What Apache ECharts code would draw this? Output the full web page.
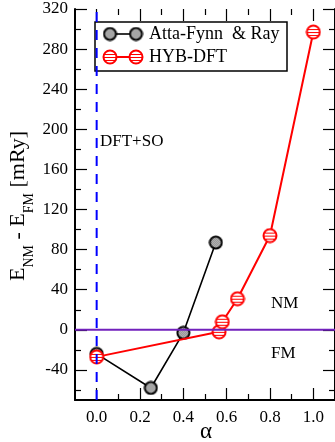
<!DOCTYPE html>
<html>
<head>
<meta charset="utf-8">
<script src="https://cdn.jsdelivr.net/npm/echarts@6/dist/echarts.min.js"></script>
<style>
  html, body { margin: 0; padding: 0; background: #fff; }
  #chart { width: 335px; height: 442px; }
</style>
</head>
<body>
<div id="chart"></div>
<script>
// Energy difference E_NM - E_FM versus hybrid mixing parameter alpha
const attaFynnRay = [[0, -24], [0.25, -58], [0.4, -3], [0.55, 87]];
const hybDft = [[0, -27], [0.565, -2], [0.58, 8], [0.65, 31], [0.8, 94], [1.0, 297]];

// reference lines: zero energy and the DFT+SO (alpha = 0) limit
const zeroLine = [[-0.1, 0], [1.1, 0]];
const dftSoLine = [[0, -70], [0, 320]];

// axis ticks
const xMajorTicks = [0, 0.2, 0.4, 0.6, 0.8, 1.0];
const xMinorTicks = [0.1, 0.3, 0.5, 0.7, 0.9];
const yMajorTicks = [-40, 0, 40, 80, 120, 160, 200, 240, 280, 320];
const yMinorTicks = [-60, -20, 20, 60, 100, 140, 180, 220, 260, 300];

const serif = '"Liberation Serif", "DejaVu Serif", serif';

// marker images: stippled grey disc and red-striped disc
const BLACK_SIZE = 15;
const RED_SIZE = 16;
function stippleMarker() {
  const s = BLACK_SIZE, c = document.createElement('canvas');
  c.width = s; c.height = s;
  const g = c.getContext('2d');
  const r = s / 2;
  g.save();
  g.beginPath(); g.arc(r, r, r - 2, 0, Math.PI * 2); g.clip();
  for (let y = 0; y < s; y++) {
    for (let x = 0; x < s; x++) {
      g.fillStyle = (x + y) % 2 === 0 ? '#6e6e6e' : '#dcdcdc';
      g.fillRect(x, y, 1, 1);
    }
  }
  g.restore();
  g.beginPath(); g.arc(r, r, r - 1.5, 0, Math.PI * 2);
  g.lineWidth = 2; g.strokeStyle = '#000'; g.stroke();
  return c.toDataURL();
}
function stripeMarker() {
  const s = RED_SIZE, c = document.createElement('canvas');
  c.width = s; c.height = s;
  const g = c.getContext('2d');
  const r = s / 2;
  g.save();
  g.beginPath(); g.arc(r, r, r - 1.5, 0, Math.PI * 2); g.clip();
  g.fillStyle = '#fff'; g.fillRect(0, 0, s, s);
  g.fillStyle = '#ff0000';
  [r - 3.5, r - 0.5, r + 2.5].forEach(y => g.fillRect(0, Math.round(y), s, 1));
  g.restore();
  g.beginPath(); g.arc(r, r, r - 1.5, 0, Math.PI * 2);
  g.lineWidth = 2; g.strokeStyle = '#ff0000'; g.stroke();
  return c.toDataURL();
}
const blackMarker = stippleMarker();
const redMarker = stripeMarker();

function xAxis(position, ticks, len, labels) {
  return {
    type: 'value', min: -0.1, max: 1.1, position: position,
    axisLine: { show: labels, onZero: false, lineStyle: { color: '#000', width: 2 } },
    axisTick: { show: true, inside: true, length: len, customValues: ticks,
      lineStyle: { color: '#000', width: 1.2 } },
    axisLabel: { show: labels, customValues: ticks, margin: 9, color: '#000',
      fontFamily: serif, fontSize: 17, formatter: v => v.toFixed(1) },
    splitLine: { show: false }
  };
}
function yAxis(position, ticks, len, labels, line) {
  return {
    type: 'value', min: -70, max: 320, position: position,
    axisLine: { show: line, onZero: false, lineStyle: { color: '#000', width: 2 } },
    axisTick: { show: true, inside: true, length: len, customValues: ticks,
      lineStyle: { color: '#000', width: 1.2 } },
    axisLabel: { show: labels, customValues: ticks, margin: 7, color: '#000',
      fontFamily: serif, fontSize: 17 },
    splitLine: { show: false }
  };
}

const chart = echarts.init(document.getElementById('chart'), null, { renderer: 'canvas' });

chart.setOption({
  animation: false,
  backgroundColor: '#fff',
  grid: { left: 75, right: -1, top: 9, bottom: 42, containLabel: false },
  xAxis: [
    xAxis('bottom', xMajorTicks, 12, true),
    xAxis('bottom', xMinorTicks, 6, false),
    xAxis('top', xMajorTicks, 12, false),
    xAxis('top', xMinorTicks, 6, false)
  ],
  yAxis: [
    yAxis('left', yMajorTicks, 12, true, true),
    yAxis('left', yMinorTicks, 6, false, false),
    yAxis('right', yMajorTicks, 12, false, true),
    yAxis('right', yMinorTicks, 6, false, false)
  ],
  series: [
    {
      name: 'Atta-Fynn  & Ray', type: 'line', data: attaFynnRay, z: 3,
      symbol: 'image://' + blackMarker, symbolSize: BLACK_SIZE,
      lineStyle: { color: '#000', width: 1.6 },
      itemStyle: { color: '#000' }
    },
    {
      name: 'HYB-DFT', type: 'line', data: hybDft, z: 4,
      symbol: 'image://' + redMarker, symbolSize: RED_SIZE,
      lineStyle: { color: '#ff0000', width: 2 },
      itemStyle: { color: '#ff0000' }
    },
    {
      name: 'zero', type: 'line', data: zeroLine, z: 5, symbol: 'none',
      lineStyle: { color: '#7221bc', width: 2 }
    },
    {
      name: 'DFT+SO', type: 'line', data: dftSoLine, z: 6, symbol: 'none',
      lineStyle: { color: '#0000ff', width: 2, type: [10, 8] }
    }
  ],
  graphic: [
    // y-axis title with subscripts
    {
      type: 'text', x: 20, y: 206, rotation: Math.PI / 2, z: 10,
      style: {
        text: '{m|E}{s|NM}{m| - E}{s|FM}{m| [mRy]}',
        align: 'center', verticalAlign: 'middle',
        rich: {
          m: { fontFamily: serif, fontSize: 22, lineHeight: 26, verticalAlign: 'top', fill: '#000' },
          s: { fontFamily: serif, fontSize: 14, lineHeight: 14, padding: [15, 0, 0, 0], verticalAlign: 'top', fill: '#000' }
        }
      }
    },
    // x-axis title
    {
      type: 'text', x: 206, y: 432, z: 10,
      style: { text: 'α', fontFamily: serif, fontSize: 23, fill: '#000', align: 'center', verticalAlign: 'middle' }
    },
    // region annotations
    {
      type: 'text', x: 100, y: 142, z: 10,
      style: { text: 'DFT+SO', fontFamily: serif, fontSize: 17, fill: '#000', align: 'left', verticalAlign: 'middle' }
    },
    {
      type: 'text', x: 271, y: 304, z: 10,
      style: { text: 'NM', fontFamily: serif, fontSize: 17, fill: '#000', align: 'left', verticalAlign: 'middle' }
    },
    {
      type: 'text', x: 271, y: 354, z: 10,
      style: { text: 'FM', fontFamily: serif, fontSize: 17, fill: '#000', align: 'left', verticalAlign: 'middle' }
    },
    // legend box
    {
      type: 'group', z: 20,
      children: [
        { type: 'rect', shape: { x: 95, y: 22, width: 192, height: 49 },
          style: { fill: '#fff', stroke: '#000', lineWidth: 1.5 } },
        { type: 'line', shape: { x1: 110, y1: 34, x2: 136, y2: 34 }, style: { stroke: '#000', lineWidth: 1.6 } },
        { type: 'image', style: { image: blackMarker, x: 110 - BLACK_SIZE / 2, y: 34 - BLACK_SIZE / 2, width: BLACK_SIZE, height: BLACK_SIZE } },
        { type: 'image', style: { image: blackMarker, x: 136 - BLACK_SIZE / 2, y: 34 - BLACK_SIZE / 2, width: BLACK_SIZE, height: BLACK_SIZE } },
        { type: 'text', x: 149, y: 34, style: { text: 'Atta-Fynn  & Ray', fontFamily: serif, fontSize: 18, fill: '#000', verticalAlign: 'middle' } },
        { type: 'line', shape: { x1: 110, y1: 57, x2: 136, y2: 57 }, style: { stroke: '#ff0000', lineWidth: 2 } },
        { type: 'image', style: { image: redMarker, x: 110 - RED_SIZE / 2, y: 57 - RED_SIZE / 2, width: RED_SIZE, height: RED_SIZE } },
        { type: 'image', style: { image: redMarker, x: 136 - RED_SIZE / 2, y: 57 - RED_SIZE / 2, width: RED_SIZE, height: RED_SIZE } },
        { type: 'text', x: 149, y: 57, style: { text: 'HYB-DFT', fontFamily: serif, fontSize: 18, fill: '#000', verticalAlign: 'middle' } }
      ]
    }
  ]
});
</script>
</body>
</html>
